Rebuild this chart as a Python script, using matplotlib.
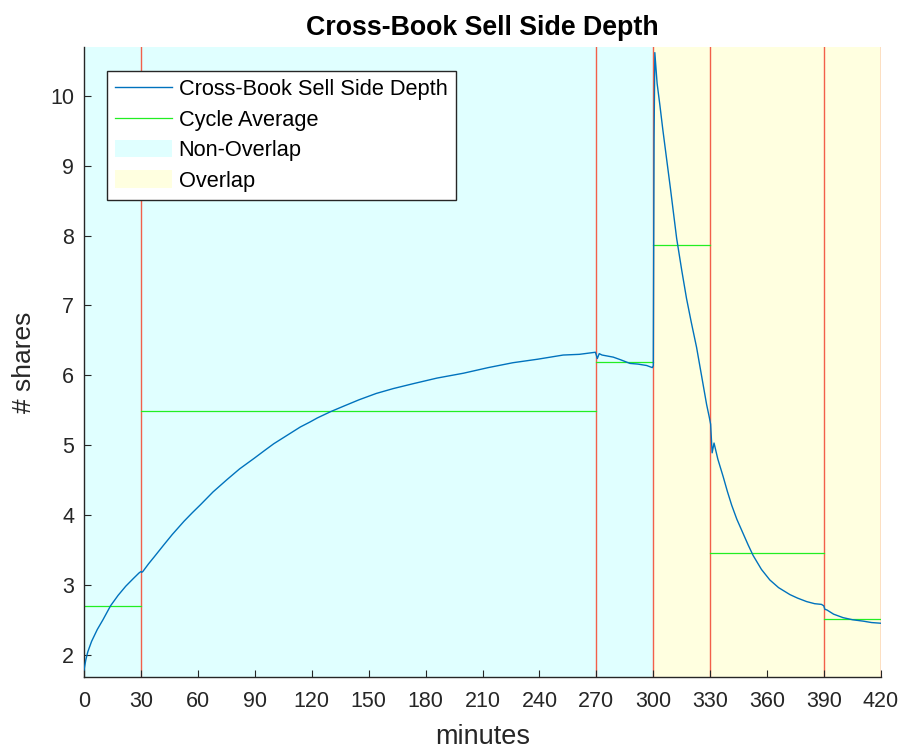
import matplotlib
matplotlib.use("Agg")
import matplotlib.pyplot as plt
from matplotlib.patches import Patch
from matplotlib.lines import Line2D

plt.rcParams["font.family"] = ["Liberation Sans", "DejaVu Sans"]

# depth curve
minutes = [0, 1, 2, 4, 7, 10, 14, 18, 22, 26, 29, 30, 30.5, 31, 34, 37, 42, 46.5,
           52.7, 57, 61.5, 68, 75.5, 82, 89.6, 95, 100, 107, 114, 119, 123, 130,
           137, 145, 154, 163, 173.5, 186, 200, 213, 226, 239, 252.5, 261, 269.5,
           270.5, 271.5, 273, 278.9, 283, 287.7, 292, 296.5, 299.5, 300, 300.4,
           300.8, 302, 303.5, 305, 306.9, 309, 312.3, 315, 317.5, 320, 322.8, 325,
           328.1, 329.5, 330.2, 331, 332, 334, 336.8, 339, 341.3, 344, 347.4, 350,
           352.6, 357, 361.4, 366, 372, 376, 380.8, 385, 388.6, 389.8, 390.4,
           391.5, 395, 400, 405, 410.6, 415, 420]
depth = [1.78, 1.93, 2.04, 2.19, 2.36, 2.50, 2.70, 2.85, 2.98, 3.09, 3.17, 3.19,
         3.18, 3.19, 3.30, 3.40, 3.57, 3.72, 3.91, 4.03, 4.15, 4.33, 4.51, 4.66,
         4.81, 4.92, 5.02, 5.14, 5.26, 5.33, 5.39, 5.48, 5.56, 5.65, 5.74, 5.81,
         5.88, 5.96, 6.03, 6.11, 6.18, 6.23, 6.29, 6.30, 6.33, 6.24, 6.31, 6.29,
         6.26, 6.22, 6.17, 6.16, 6.14, 6.11, 6.14, 9.40, 10.62, 10.18, 9.86, 9.52,
         9.12, 8.68, 7.96, 7.50, 7.10, 6.76, 6.40, 6.06, 5.58, 5.40, 5.30, 4.89,
         5.03, 4.80, 4.55, 4.34, 4.14, 3.94, 3.73, 3.57, 3.42, 3.22, 3.07, 2.96,
         2.86, 2.81, 2.76, 2.73, 2.72, 2.70, 2.65, 2.64, 2.58, 2.53, 2.50, 2.48,
         2.46, 2.45]

cycle_edges = [0, 30, 270, 300, 330, 390, 420]
cycle_avg = [2.70, 5.49, 6.19, 7.87, 3.46, 2.51]
non_overlap = (0, 300)
overlap = (300, 420)
xticks = list(range(0, 421, 30))

fig = plt.figure(figsize=(9.04, 7.5), dpi=100)
ax = fig.add_axes([0.0929, 0.0973, 0.8817, 0.84])

ax.axvspan(*non_overlap, color="#e0ffff", lw=0, zorder=0)
ax.axvspan(*overlap, color="#ffffe0", lw=0, zorder=0)

for x in cycle_edges[1:]:
    ax.axvline(x, color="#f2604a", lw=1.0, zorder=1)

ax.plot(minutes, depth, color="#0072bd", lw=1.0, zorder=3)

for i in range(len(cycle_avg)):
    ax.plot([cycle_edges[i], cycle_edges[i + 1]], [cycle_avg[i], cycle_avg[i]],
            color="#22ee22", lw=0.9, zorder=2)

ax.set_xlim(0, 420)
ax.set_ylim(1.68, 10.7)
ax.set_xticks(xticks)
ax.set_yticks(range(2, 11))

for s in ["top", "right"]:
    ax.spines[s].set_visible(False)
for s in ["left", "bottom"]:
    ax.spines[s].set_color("#262626")
    ax.spines[s].set_linewidth(1.0)
ax.tick_params(axis="both", direction="in", length=5, width=0.8, color="#262626",
               labelsize=15.5, labelcolor="#262626")
ax.tick_params(axis="x", pad=10)
ax.tick_params(axis="y", pad=7)

ax.set_title("Cross-Book Sell Side Depth", fontsize=19.3, fontweight="bold", pad=9)
ax.set_xlabel("minutes", fontsize=19.5, color="#262626", labelpad=9)
ax.set_ylabel("# shares", fontsize=19, color="#262626", labelpad=10)

handles = [
    Line2D([], [], color="#0072bd", lw=1.0),
    Line2D([], [], color="#22ee22", lw=0.9),
    Patch(facecolor="#e0ffff", edgecolor="none"),
    Patch(facecolor="#ffffe0", edgecolor="none"),
]
labels = ["Cross-Book Sell Side Depth", "Cycle Average", "Non-Overlap", "Overlap"]
leg = ax.legend(handles, labels, loc="upper left", bbox_to_anchor=(0.029, 0.962),
                borderaxespad=0, fontsize=15.7, fancybox=False, framealpha=1,
                edgecolor="#262626", handlelength=2.6, handleheight=0.85,
                handletextpad=0.3, labelspacing=0.42, borderpad=0.38)
leg.get_frame().set_linewidth(1.0)

fig.savefig("out.png", dpi=100)
